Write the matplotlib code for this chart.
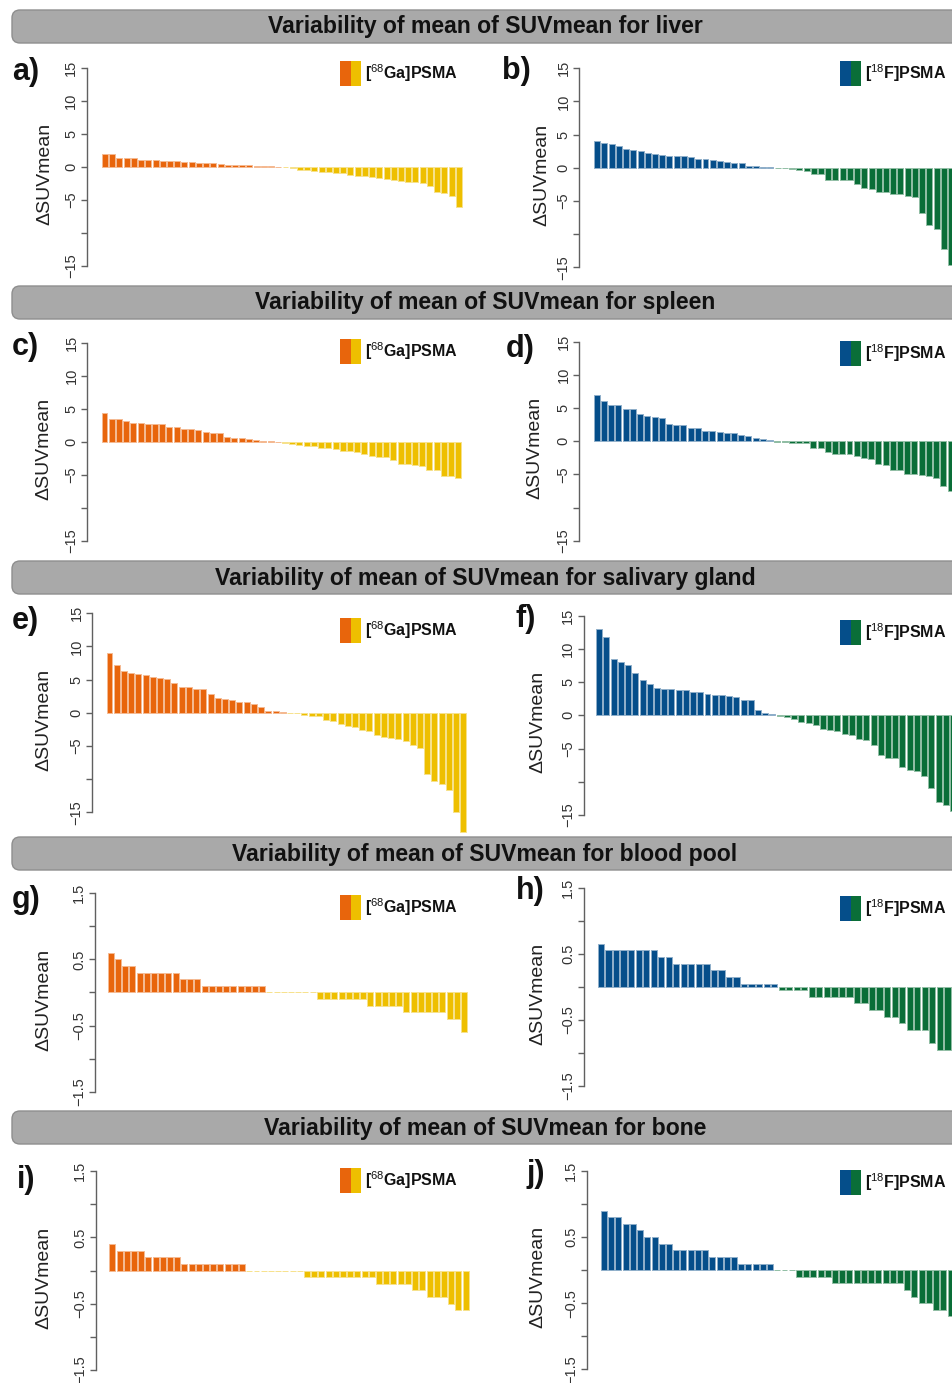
import numpy as np
import matplotlib
matplotlib.use("Agg")
import matplotlib.pyplot as plt
from matplotlib.patches import FancyBboxPatch, Rectangle
from matplotlib.colors import to_rgb

plt.rcParams['font.family'] = ['Liberation Sans', 'DejaVu Sans']
plt.rcParams['mathtext.fontset'] = 'custom'
plt.rcParams['mathtext.rm'] = 'Liberation Sans'
plt.rcParams['mathtext.bf'] = 'Liberation Sans:bold'

# ---------------- data ----------------
titles = ["Variability of mean of SUVmean for liver",
          "Variability of mean of SUVmean for spleen",
          "Variability of mean of SUVmean for salivary gland",
          "Variability of mean of SUVmean for blood pool",
          "Variability of mean of SUVmean for bone"]
letters = ["a)", "b)", "c)", "d)", "e)", "f)", "g)", "h)", "i)", "j)"]
ylabel = "ΔSUVmean"
ga_label = r"[$^{68}$Ga]PSMA"
f_label = r"[$^{18}$F]PSMA"

ticks_big = [-15, -10, -5, 0, 5, 10, 15]
ticklabels_big = ["\u221215", "", "\u22125", "0", "5", "10", "15"]
ticks_small = [-1.5, -1.0, -0.5, 0, 0.5, 1.0, 1.5]
ticklabels_small = ["\u22121.5", "", "\u22120.5", "", "0.5", "", "1.5"]

ga_liver = [1.9, 1.9, 1.4, 1.3, 1.3, 1.0, 1.0, 1.0, 0.9, 0.9, 0.9, 0.7, 0.7, 0.65, 0.55,
            0.55, 0.45, 0.35, 0.35, 0.3, 0.25, 0.15, 0.15, 0.1, 0.05,
            -0.05, -0.1, -0.45, -0.5, -0.7, -0.8, -0.8, -1.0, -1.0, -1.2, -1.4, -1.4, -1.5,
            -1.7, -1.9, -2.0, -2.2, -2.3, -2.3, -2.4, -2.9, -3.8, -4.0, -4.4, -6.1]
f_liver = [4.0, 3.7, 3.6, 3.3, 2.8, 2.7, 2.5, 2.2, 2.1, 2.0, 1.8, 1.8, 1.8, 1.6, 1.4, 1.4,
           1.2, 1.1, 0.8, 0.75, 0.65, 0.3, 0.2, 0.1, 0.05,
           -0.05, -0.1, -0.15, -0.3, -0.5, -0.9, -1.0, -1.8, -1.9, -1.9, -1.9, -2.5, -3.0,
           -3.2, -3.6, -3.7, -3.9, -4.0, -4.3, -4.4, -6.8, -8.6, -9.3, -12.3, -14.6]
ga_spleen = [4.4, 3.4, 3.4, 3.2, 2.9, 2.8, 2.7, 2.7, 2.7, 2.3, 2.2, 1.9, 1.9, 1.75, 1.5,
             1.3, 1.3, 0.75, 0.6, 0.55, 0.45, 0.35, 0.2, 0.1, 0.05,
             -0.1, -0.4, -0.5, -0.6, -0.7, -0.9, -1.0, -1.1, -1.4, -1.4, -1.5, -1.8, -2.1,
             -2.3, -2.3, -2.7, -3.4, -3.4, -3.5, -3.6, -4.3, -4.3, -5.2, -5.2, -5.4]
f_spleen = [6.9, 6.0, 5.5, 5.5, 4.9, 4.9, 4.05, 3.8, 3.65, 3.45, 2.65, 2.45, 2.45, 2.0, 2.0,
            1.55, 1.5, 1.4, 1.25, 1.25, 0.9, 0.75, 0.45, 0.4, 0.15,
            -0.05, -0.1, -0.25, -0.3, -0.3, -1.0, -1.1, -1.6, -1.9, -1.9, -2.0, -2.2, -2.5,
            -2.7, -3.4, -3.6, -4.3, -4.3, -4.9, -4.9, -5.1, -5.3, -5.5, -6.7, -7.5]
ga_salivary = [9.0, 7.15, 6.25, 5.95, 5.85, 5.65, 5.35, 5.25, 5.05, 4.55, 3.85, 3.85, 3.65,
               3.65, 2.8, 2.3, 2.15, 2.0, 1.7, 1.6, 1.3, 0.9, 0.25, 0.2, 0.15,
               -0.05, -0.1, -0.3, -0.5, -0.55, -1.1, -1.3, -1.7, -2.0, -2.1, -2.6, -2.8,
               -3.3, -3.7, -3.8, -3.9, -4.3, -4.9, -5.3, -9.2, -10.3, -10.7, -11.7, -14.9, -17.9]
f_salivary = [12.95, 11.85, 8.45, 8.1, 7.55, 6.45, 5.35, 4.7, 4.05, 3.9, 3.9, 3.75, 3.75,
              3.55, 3.55, 3.25, 3.1, 3.1, 2.85, 2.75, 2.35, 2.35, 0.75, 0.3, 0.15,
              -0.05, -0.3, -0.55, -1.0, -1.2, -1.4, -2.1, -2.2, -2.4, -2.8, -3.0, -3.5, -3.7,
              -4.5, -5.9, -6.4, -6.4, -7.75, -8.2, -8.4, -9.1, -11.0, -13.0, -13.5, -14.4]
ga_blood = [0.6, 0.5, 0.4, 0.4, 0.3, 0.3, 0.3, 0.3, 0.3, 0.3, 0.2, 0.2, 0.2,
            0.1, 0.1, 0.1, 0.1, 0.1, 0.1, 0.1, 0.1, 0.1,
            0.0, 0.0, 0.0, 0.0, 0.0, 0.0, 0.0,
            -0.1, -0.1, -0.1, -0.1, -0.1, -0.1, -0.1, -0.2, -0.2, -0.2, -0.2, -0.2,
            -0.3, -0.3, -0.3, -0.3, -0.3, -0.3, -0.4, -0.4, -0.6]
f_blood = [0.65, 0.55, 0.55, 0.55, 0.55, 0.55, 0.55, 0.55, 0.45, 0.45,
           0.35, 0.35, 0.35, 0.35, 0.35, 0.25, 0.25, 0.15, 0.15,
           0.05, 0.05, 0.05, 0.05, 0.05,
           -0.05, -0.05, -0.05, -0.05, -0.15, -0.15, -0.15, -0.15, -0.15, -0.15,
           -0.25, -0.25, -0.35, -0.35, -0.45, -0.45, -0.55, -0.65, -0.65, -0.65,
           -0.85, -0.95, -0.95, -1.25]
ga_bone = [0.4, 0.3, 0.3, 0.3, 0.3, 0.2, 0.2, 0.2, 0.2, 0.2,
           0.1, 0.1, 0.1, 0.1, 0.1, 0.1, 0.1, 0.1, 0.1,
           0.0, 0.0, 0.0, 0.0, 0.0, 0.0, 0.0, 0.0,
           -0.1, -0.1, -0.1, -0.1, -0.1, -0.1, -0.1, -0.1, -0.1, -0.1,
           -0.2, -0.2, -0.2, -0.2, -0.2, -0.3, -0.3, -0.4, -0.4, -0.4, -0.5, -0.6, -0.6]
f_bone = [0.9, 0.8, 0.8, 0.7, 0.7, 0.6, 0.5, 0.5, 0.4, 0.4,
          0.3, 0.3, 0.3, 0.3, 0.3, 0.2, 0.2, 0.2, 0.2, 0.1, 0.1, 0.1, 0.1, 0.1,
          0.0, 0.0, 0.0,
          -0.1, -0.1, -0.1, -0.1, -0.1,
          -0.2, -0.2, -0.2, -0.2, -0.2, -0.2, -0.2, -0.2, -0.2, -0.2,
          -0.3, -0.4, -0.5, -0.5, -0.6, -0.6, -0.7, -0.8]

# ---------------- style ----------------
ORANGE, YELLOW = "#E8650C", "#EEBF00"
BLUE, GREEN = "#054E8A", "#0A6E38"
FW, FH = 952, 1383

panel_data = [ga_liver, f_liver, ga_spleen, f_spleen, ga_salivary, f_salivary,
              ga_blood, f_blood, ga_bone, f_bone]

# layout in pixels: spine x, top tick y, bottom tick y, first bar centre x, bar pitch
geom = [(87, 67.7, 266.0, 105.0, 7.22),
        (579.3, 68.3, 267.3, 597.2, 7.22),
        (87.3, 342.7, 541.0, 104.5, 7.22),
        (579.3, 341.7, 540.7, 596.8, 7.22),
        (92.3, 613.3, 812.3, 109.5, 7.22),
        (584.0, 615.7, 815.0, 599.2, 7.22),
        (95.0, 893.3, 1091.7, 110.8, 7.21),
        (584.0, 887.7, 1086.0, 601.0, 7.53),
        (96.0, 1171.0, 1370.0, 112.3, 7.21),
        (586.7, 1171.0, 1369.3, 604.0, 7.22)]
letter_pos = [(12, 80), (502, 79), (12, 355), (506, 357), (12, 629), (516, 627),
              (12, 908), (516, 899), (17, 1188), (527, 1182)]
ylabel_x = [45, 542, 44, 535, 44, 538, 44, 538, 44, 538]
legend_top = [61, 61, 339, 341, 618, 620, 895, 896, 1168, 1170]
banner_top = [10, 286, 561, 837, 1111]


def lighten(c, f=0.55):
    r, g, b = to_rgb(c)
    return (r + (1 - r) * f, g + (1 - g) * f, b + (1 - b) * f)


fig = plt.figure(figsize=(FW / 100, FH / 100), dpi=100)
bg = fig.add_axes([0, 0, 1, 1], zorder=-10)
bg.set_xlim(0, FW)
bg.set_ylim(FH, 0)
bg.axis("off")

for t, top in zip(titles, banner_top):
    bg.add_patch(FancyBboxPatch((12, top), 1000, 33,
                                boxstyle="round,pad=0,rounding_size=8",
                                fc="#a9a9a9", ec="#8e8e8e", lw=1.0))
    bg.text(485, top + 17, t, ha="center", va="center", fontsize=16.6,
            fontweight="bold", color="#111111")

for k in range(10):
    vals = np.array(panel_data[k])
    spine, top, bot, first, pitch = geom[k]
    is_ga = (k % 2 == 0)
    pos_c, neg_c = (ORANGE, YELLOW) if is_ga else (BLUE, GREEN)
    big = k < 6
    W = 420
    ax = fig.add_axes([spine / FW, 1 - bot / FH, W / FW, (bot - top) / FH])
    ax.patch.set_visible(False)
    x = np.arange(len(vals))
    cols = [pos_c if v > 0 else neg_c for v in vals]
    edges = [lighten(c) for c in cols]
    ax.bar(x, vals, width=0.83, color=cols, edgecolor=edges, linewidth=0.7,
           clip_on=False)
    ax.set_xlim((spine - first) / pitch, (spine + W - first) / pitch)
    if big:
        ax.set_ylim(-15, 15)
        ax.set_yticks(ticks_big)
        ax.set_yticklabels(ticklabels_big, rotation=90, va="center")
    else:
        ax.set_ylim(-1.5, 1.5)
        ax.set_yticks(ticks_small)
        ax.set_yticklabels(ticklabels_small, rotation=90, va="center")
    for s in ["top", "right", "bottom"]:
        ax.spines[s].set_visible(False)
    ax.spines["left"].set_color("#606060")
    ax.spines["left"].set_linewidth(1.0)
    ax.set_xticks([])
    ax.tick_params(axis="y", length=4.3, width=1.0, color="#606060", pad=2,
                   labelsize=10.5, labelcolor="#333333")

    # y label
    bg.text(ylabel_x[k], (top + bot) / 2 + 7, ylabel, rotation=90, ha="center",
            va="center", fontsize=14, color="#222222")
    # panel letter
    lx, ly = letter_pos[k]
    bg.text(lx, ly, letters[k], fontsize=22, fontweight="bold", va="baseline",
            ha="left", color="#111111")
    # legend
    lt = legend_top[k]
    sx = 340 if is_ga else 840
    bg.add_patch(Rectangle((sx, lt), 10.5, 25, fc=pos_c, ec="none"))
    bg.add_patch(Rectangle((sx + 10.5, lt), 10.5, 25, fc=neg_c, ec="none"))
    bg.text(sx + 25, lt + 12.5, ga_label if is_ga else f_label, ha="left",
            va="center", fontsize=11.5, fontweight="bold", color="#111111")

fig.savefig("out.png", dpi=100)
